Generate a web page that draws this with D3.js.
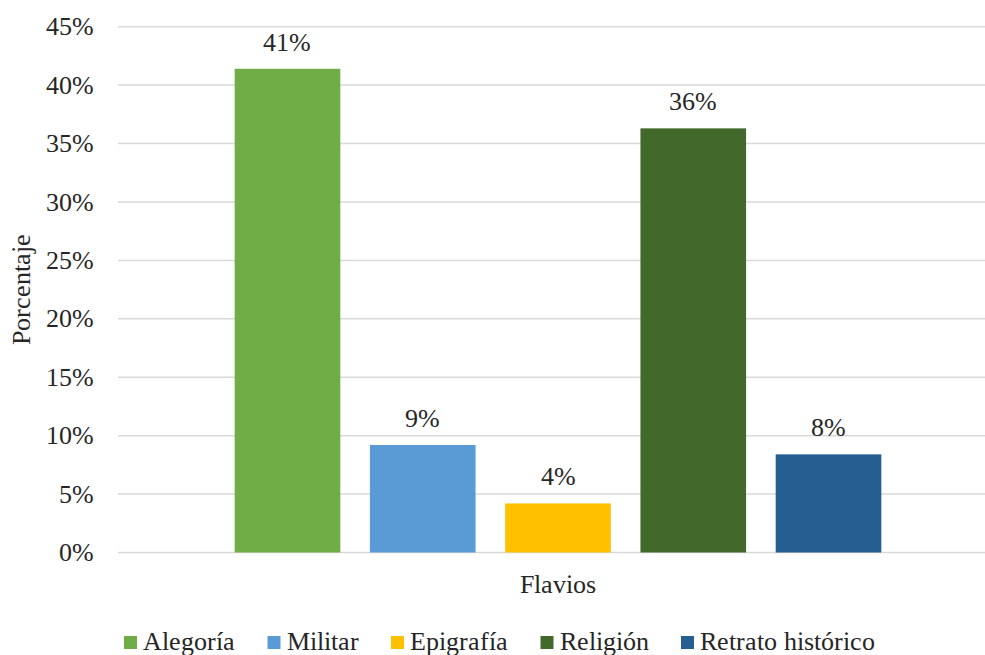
<!DOCTYPE html>
<html>
<head>
<meta charset="utf-8">
<script src="https://cdn.jsdelivr.net/npm/d3@7"></script>
<style>
  @font-face { font-family: "ChartSerif"; src: local("Liberation Serif"), local("LiberationSerif"), local("Times New Roman"), local("Tinos"); }
  html, body { margin: 0; padding: 0; background: #fff; }
  svg { display: block; }
</style>
</head>
<body>
<svg id="chart" width="985" height="655"></svg>
<script>
const categories = ["Flavios"];
const series = ["Alegoría", "Militar", "Epigrafía", "Religión", "Retrato histórico"];
const values = [41.4, 9.2, 4.2, 36.3, 8.4];
const labels = ["41%", "9%", "4%", "36%", "8%"];
const colors = ["#70AD47", "#5B9BD5", "#FFC000", "#43682B", "#255E91"];
const yTicks = [0, 5, 10, 15, 20, 25, 30, 35, 40, 45];

const FONT = "ChartSerif, 'Liberation Serif', Tinos, 'Times New Roman', serif";
const TXT = "#262626";
const fs = 26;

const svg = d3.select("#chart").style("font-family", FONT);
const plot = { left: 118, right: 998, top: 26.7, bottom: 552.5 };

function styleText(sel) {
  return sel.style("font-family", FONT).attr("font-size", fs).attr("fill", TXT);
}

function draw() {
  svg.selectAll("*").remove();

  const y = d3.scaleLinear().domain([0, 45]).range([plot.bottom, plot.top]);
  const x0 = d3.scaleBand().domain(categories).range([plot.left, plot.right]).paddingInner(0).paddingOuter(0.1804);
  const x1 = d3.scaleBand().domain(series).range([0, x0.bandwidth()]).paddingInner(0.219).paddingOuter(0);

  // gridlines
  svg.append("g").selectAll("line").data(yTicks).join("line")
    .attr("x1", plot.left).attr("x2", plot.right)
    .attr("y1", d => y(d)).attr("y2", d => y(d))
    .attr("stroke", "#D9D9D9").attr("stroke-width", 1.5);

  // tick labels
  svg.append("g").selectAll("text").data(yTicks).join("text")
    .attr("x", 94).attr("y", d => y(d)).attr("dy", "0.33em")
    .attr("text-anchor", "end")
    .text(d => d + "%")
    .call(styleText);

  // bars and value labels
  const g = svg.append("g");
  categories.forEach(cat => {
    series.forEach((s, i) => {
      const bx = x0(cat) + x1(s);
      g.append("rect")
        .attr("x", bx).attr("y", y(values[i]))
        .attr("width", x1.bandwidth()).attr("height", y(0) - y(values[i]))
        .attr("fill", colors[i]);
      styleText(g.append("text")
        .attr("x", bx + x1.bandwidth() / 2).attr("y", y(values[i]) - 18)
        .attr("text-anchor", "middle")
        .text(labels[i]));
    });
    styleText(svg.append("text")
      .attr("x", x0(cat) + x0.bandwidth() / 2).attr("y", 593)
      .attr("text-anchor", "middle")
      .text(cat));
  });

  // y axis title
  styleText(svg.append("text")
    .attr("transform", `translate(30,${(plot.top + plot.bottom) / 2}) rotate(-90)`)
    .attr("text-anchor", "middle")
    .text("Porcentaje"));

  // legend
  const leg = svg.append("g");
  let lx = 124;
  series.forEach((s, i) => {
    leg.append("rect").attr("x", lx).attr("y", 636).attr("width", 13).attr("height", 13).attr("fill", colors[i]);
    const t = styleText(leg.append("text").attr("x", lx + 19).attr("y", 650).text(s));
    lx += 19 + t.node().getComputedTextLength() + 32.5;
  });
}

draw();
if (document.fonts && document.fonts.load) {
  document.fonts.load(fs + "px ChartSerif").then(draw).catch(() => {});
}
</script>
</body>
</html>
